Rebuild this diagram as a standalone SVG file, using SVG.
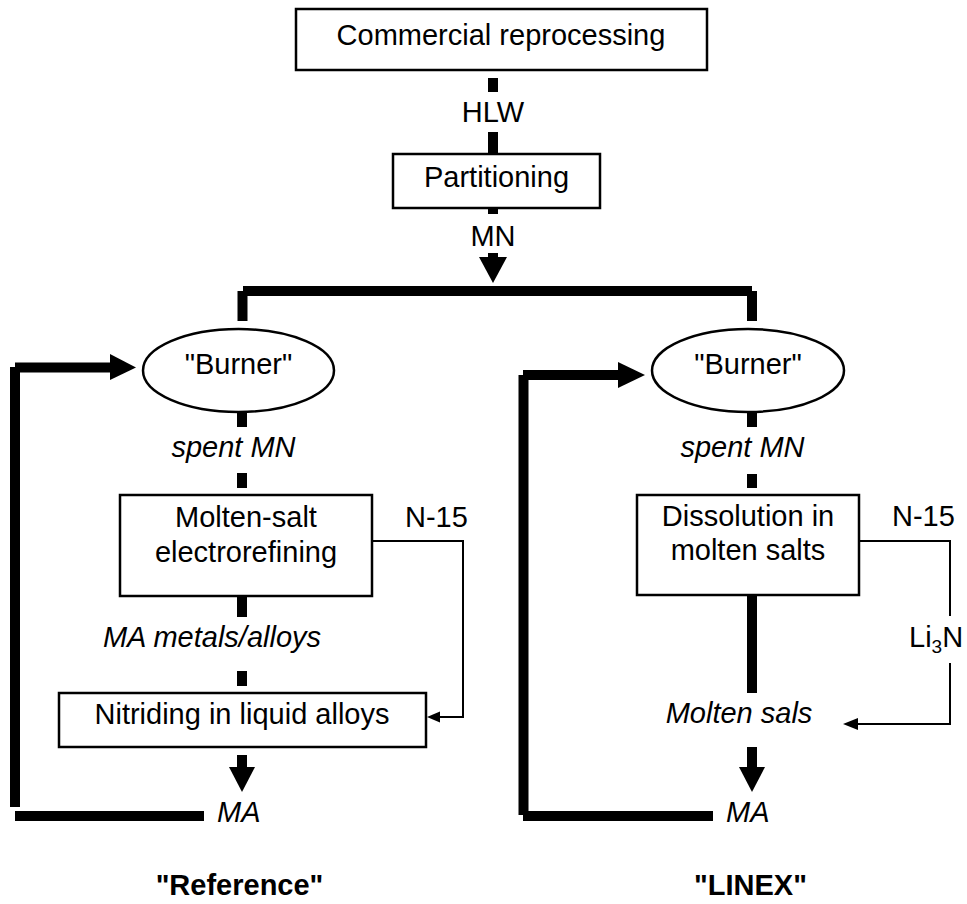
<svg xmlns="http://www.w3.org/2000/svg" width="967" height="904" viewBox="0 0 967 904">
<style>
.box{fill:#fff;stroke:#000;stroke-width:2.5}
.t{font-family:"Liberation Sans",Arial,sans-serif;font-size:29px;fill:#000}
.c{text-anchor:middle}
.i{font-style:italic}
.b{font-weight:bold}
.thick{stroke:#000;stroke-width:10;fill:none;stroke-linecap:butt}
.thin{stroke:#000;stroke-width:2;fill:none}
.ah{fill:#000;stroke:none}
</style>
<rect width="967" height="904" fill="#fff"/>
<g id="connectors">
  <line class="thick" x1="493" y1="78" x2="493" y2="92"/>
  <line class="thick" x1="493" y1="132" x2="493" y2="154"/>
  <line class="thick" x1="493" y1="208" x2="493" y2="214"/>
  <line class="thick" x1="493" y1="253" x2="493" y2="258"/>
  <polygon class="ah" points="479,257 507,257 493,283"/>
  <line class="thick" x1="243" y1="291" x2="752" y2="291"/>
  <line class="thick" x1="242.5" y1="291" x2="242.5" y2="321"/>
  <line class="thick" x1="752" y1="291" x2="752" y2="321"/>
  <line class="thick" x1="242" y1="412" x2="242" y2="427"/>
  <line class="thick" x1="242" y1="473" x2="242" y2="488"/>
  <line class="thick" x1="242" y1="596" x2="242" y2="617"/>
  <line class="thick" x1="242" y1="671" x2="242" y2="686"/>
  <line class="thick" x1="242" y1="755" x2="242" y2="768"/>
  <polygon class="ah" points="229,767 255,767 242,792"/>
  <polyline class="thin" points="372,541 463,541 463,717 438,717"/>
  <polygon class="ah" points="427,717 440,711.5 440,722.5"/>
  <line class="thick" x1="15" y1="367" x2="15" y2="807"/>
  <line class="thick" x1="15" y1="367.5" x2="112" y2="367.5"/>
  <polygon class="ah" points="110,354 136,367.5 110,380"/>
  <line class="thick" x1="15" y1="816" x2="204" y2="816"/>
  <line class="thick" x1="752" y1="413" x2="752" y2="427"/>
  <line class="thick" x1="752" y1="474" x2="752" y2="488"/>
  <line class="thick" x1="752" y1="595" x2="752" y2="693"/>
  <line class="thick" x1="752" y1="747" x2="752" y2="768"/>
  <polygon class="ah" points="739,767 765,767 752,792"/>
  <polyline class="thin" points="859,541 950,541 950,616"/>
  <polyline class="thin" points="950,663 950,724 856,724"/>
  <polygon class="ah" points="843,724 858,718 858,730"/>
  <line class="thick" x1="523.5" y1="375" x2="523.5" y2="815"/>
  <line class="thick" x1="523" y1="375" x2="620" y2="375"/>
  <polygon class="ah" points="618,362 645,375 618,388"/>
  <line class="thick" x1="523" y1="816" x2="713" y2="816"/>
</g>
<g id="commercial">
  <rect class="box" x="296" y="9" width="411" height="61"/>
  <text class="t c" x="501" y="45">Commercial reprocessing</text>
</g>
<g id="hlw"><text class="t c" x="493" y="122">HLW</text></g>
<g id="partitioning">
  <rect class="box" x="393" y="154" width="207" height="54"/>
  <text class="t c" x="496.5" y="187">Partitioning</text>
</g>
<g id="mn"><text class="t c" x="493" y="246">MN</text></g>
<g id="burner-left">
  <ellipse class="box" cx="238.5" cy="370.5" rx="95.5" ry="41.5"/>
  <text class="t c" x="238.5" y="374">"Burner"</text>
</g>
<g id="spent-left"><text class="t c i" x="233.5" y="457">spent MN</text></g>
<g id="electrorefining">
  <rect class="box" x="120" y="495" width="252" height="101"/>
  <text class="t c" x="246" y="527">Molten-salt</text>
  <text class="t c" x="246" y="562">electrorefining</text>
</g>
<g id="n15-left"><text class="t" x="405" y="527">N-15</text></g>
<g id="ma-metals"><text class="t c i" x="212" y="647">MA metals/alloys</text></g>
<g id="nitriding">
  <rect class="box" x="59" y="693" width="367" height="54"/>
  <text class="t c" x="242" y="724">Nitriding in liquid alloys</text>
</g>
<g id="ma-left"><text class="t i" x="217" y="822">MA</text></g>
<g id="label-reference"><text class="t c b" x="239.5" y="895">"Reference"</text></g>
<g id="burner-right">
  <ellipse class="box" cx="748" cy="370.5" rx="96" ry="41.5"/>
  <text class="t c" x="748" y="374">"Burner"</text>
</g>
<g id="spent-right"><text class="t c i" x="742.5" y="457">spent MN</text></g>
<g id="dissolution">
  <rect class="box" x="637" y="495" width="222" height="100"/>
  <text class="t c" x="748" y="526">Dissolution in</text>
  <text class="t c" x="748" y="560">molten salts</text>
</g>
<g id="n15-right"><text class="t" x="892" y="526">N-15</text></g>
<g id="li3n"><text class="t" x="909" y="647">Li<tspan font-size="19" dy="6">3</tspan><tspan dy="-6">N</tspan></text></g>
<g id="molten-sals"><text class="t c i" x="739" y="723">Molten sals</text></g>
<g id="ma-right"><text class="t i" x="726" y="822">MA</text></g>
<g id="label-linex"><text class="t c b" x="750.5" y="895">"LINEX"</text></g>
</svg>
